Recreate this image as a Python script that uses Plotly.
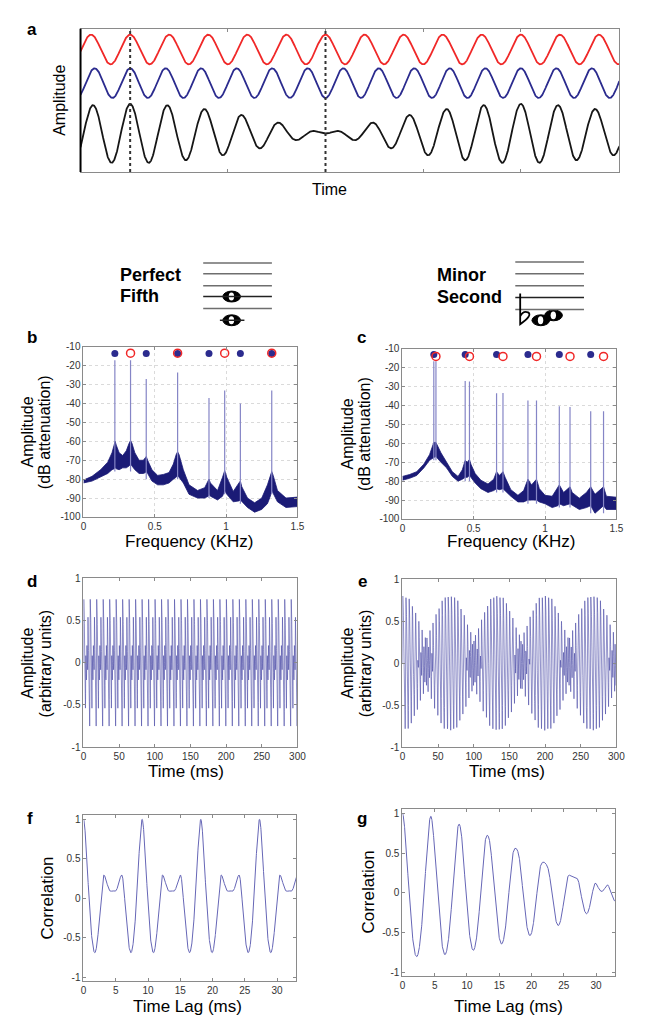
import numpy as np
import plotly.graph_objects as go

W, H = 645, 1024
FONT = "Arial, Liberation Sans, Helvetica, sans-serif"

# ---- panel a : two pure tones and their sum ----
A_TONE_FREQ = [1.0, 1.1]        # red, blue (cycles / time unit)
A_ALIGN_T = 1.27                # both tones peak here
A_MARK_T = [1.27, 6.27]         # dotted lines
A_T_END = 13.79
A_TICKS = [1.27, 3.77, 6.27, 8.77, 11.27]

# ---- chords (Hz) and harmonic levels (dB) ----
FIFTH_TONES_HZ = [220, 330]
SECOND_TONES_HZ = [220, 235]
HARMONIC_DB = [-17, -27, -33.5, -37.5, -40.5, -43]

# ---- panel b : perfect fifth spectrum ----
B_FREQ = [0.00, 0.06, 0.12, 0.17, 0.20, 0.215, 0.222, 0.23, 0.25, 0.275, 0.30, 0.32, 0.33, 0.34,
          0.36, 0.39, 0.42, 0.435, 0.44, 0.45, 0.48, 0.52, 0.56, 0.60, 0.63, 0.65, 0.66, 0.67,
          0.70, 0.74, 0.80, 0.85, 0.875, 0.88, 0.89, 0.94, 0.975, 0.99, 1.005, 1.05, 1.09, 1.10,
          1.11, 1.15, 1.20, 1.25, 1.29, 1.31, 1.32, 1.33, 1.36, 1.42, 1.50]
B_TOP = [-80.5, -78.5, -75, -71, -66, -61, -60, -62, -66, -67.5, -65, -61, -59.5, -61,
         -66, -70, -70, -68.5, -68, -70, -75, -78, -77.5, -76.5, -72, -67, -65.5, -67,
         -75, -83, -86, -84.5, -81, -80, -82, -86, -79, -75.5, -79, -86.5, -82, -81,
         -84, -90, -92.5, -90, -83, -77.5, -76, -78, -86, -90, -89.5]
B_BOTTOM = [-82, -81, -79, -77, -75, -74.5, -74, -74.5, -75, -74, -74, -73, -72, -73,
            -75, -77, -77, -76.5, -76, -77, -81, -83, -83, -82, -80, -79, -78, -79,
            -82, -88, -90, -90, -89, -88, -89, -91, -89, -86, -88, -92, -91.5, -91,
            -92, -95, -97.5, -96, -93, -89, -86, -88, -92, -95, -94.5]
B_PEAK_FREQ = [0.22, 0.33, 0.44, 0.66, 0.88, 0.99, 1.10, 1.32]
B_PEAK_DB = [-17, -17, -27, -23.5, -37, -33, -40, -33]
B_PEAK_BASE = [-76, -76, -80, -80, -90, -88, -93, -88]
B_DOT_BLUE = [0.22, 0.44, 0.66, 0.88, 1.10, 1.32]
B_DOT_RED = [0.33, 0.66, 0.99, 1.32]

# ---- panel c : minor second spectrum ----
C_FREQ = [0.00, 0.05, 0.10, 0.15, 0.19, 0.21, 0.22, 0.235, 0.245, 0.27, 0.31, 0.35, 0.39, 0.42,
          0.44, 0.455, 0.47, 0.48, 0.51, 0.55, 0.60, 0.64, 0.66, 0.68, 0.705, 0.72, 0.76, 0.81,
          0.85, 0.88, 0.905, 0.94, 0.96, 1.00, 1.05, 1.09, 1.10, 1.13, 1.175, 1.19, 1.24, 1.29,
          1.32, 1.35, 1.41, 1.43, 1.50]
C_TOP = [-77.5, -76.5, -75, -71, -66, -61, -59.5, -59.5, -61, -65, -70, -75, -77.5, -74,
         -69, -70, -68.5, -71, -76, -79.5, -81.5, -79, -75, -77, -75, -78, -84.5, -87.5,
         -85, -79, -82, -79, -84, -87.5, -88, -83, -82, -86, -83, -86, -89, -86,
         -83, -87, -83, -88, -88.5]
C_BOTTOM = [-79.5, -78.5, -77, -73, -69, -68, -67.5, -67, -68, -70, -73, -77.5, -80, -79,
            -78, -78, -77, -78, -81, -84, -86, -85, -84, -84.5, -84, -85, -88, -91,
            -91, -90, -90, -90, -91, -92, -94, -93, -92, -93, -92, -93, -95, -94,
            -93, -97, -93, -95, -95]
C_PEAK_FREQ = [0.22, 0.235, 0.44, 0.47, 0.66, 0.705, 0.88, 0.94, 1.10, 1.175, 1.32, 1.41]
C_PEAK_DB = [-16.5, -16.5, -27, -27.2, -33.5, -33.3, -37.3, -37.3, -40.4, -40.7, -43, -43]
C_PEAK_BASE = [-69, -69, -80, -80, -86, -86, -92, -92, -94, -94, -97, -97]
C_DOT_BLUE = [0.22, 0.44, 0.66, 0.88, 1.10, 1.32]
C_DOT_RED = [0.235, 0.47, 0.705, 0.94, 1.175, 1.41]

D_PEAK = 0.75   # peak amplitude of the fifth waveform
E_PEAK = 0.80   # peak amplitude of the minor-second waveform

C_RED = "#f02828"
C_BLUE = "#2b2b8e"
C_NAVY = "#1b1b76"
C_PEAKLINE = "#8585c6"
C_WAVE = "#4a4aa6"
C_FRAME = "#8a8a8a"


def X(px):
    return px / W


def Y(py):
    return 1 - py / H


def chord(tones, t_ms, peak):
    amps = 10 ** (np.array(HARMONIC_DB) / 20)
    sig = np.zeros_like(t_ms)
    for f0 in tones:
        for h, a in enumerate(amps, start=1):
            sig += a * np.sin(2 * np.pi * h * f0 * t_ms / 1000)
    return sig * peak / np.abs(sig).max()


def autocorr(tones, lag_ms):
    amps = 10 ** (np.array(HARMONIC_DB) / 20)
    r = np.zeros_like(lag_ms)
    for f0 in tones:
        for h, a in enumerate(amps, start=1):
            r += a ** 2 * np.cos(2 * np.pi * h * f0 * lag_ms / 1000)
    return r / r[0]


def axis(x0, x1, rng, tickvals, ticktext, grid=False, labels=True):
    return dict(
        domain=[x0, x1], range=rng, tickvals=tickvals,
        ticktext=ticktext if labels else [""] * len(tickvals),
        showline=True, mirror="ticks", linecolor=C_FRAME, linewidth=1,
        ticks="inside", ticklen=3, tickcolor=C_FRAME,
        tickfont=dict(size=10, color="#333", family=FONT),
        showgrid=grid, gridcolor="#dadada", griddash="dot", gridwidth=1,
        zeroline=False,
    )


fig = go.Figure()

# ---------------- panel a ----------------
ta = np.linspace(0, A_T_END, 2500)
red = np.cos(2 * np.pi * A_TONE_FREQ[0] * (ta - A_ALIGN_T))
blue = np.cos(2 * np.pi * A_TONE_FREQ[1] * (ta - A_ALIGN_T))
for y, off, col in [(red, -1.4, C_RED), (blue, -3.67, C_BLUE), (red + blue, -7.07, "#161616")]:
    fig.add_trace(go.Scatter(x=ta, y=y + off, mode="lines", line=dict(color=col, width=1.8),
                             xaxis="x", yaxis="y", showlegend=False, hoverinfo="skip"))

# ---------------- spectra ----------------
for freq, top, bot, pf, pdb, pbase, dblue, dred, xa, ya, dy in [
    (B_FREQ, B_TOP, B_BOTTOM, B_PEAK_FREQ, B_PEAK_DB, B_PEAK_BASE, B_DOT_BLUE, B_DOT_RED, "x2", "y2", (-13.5, -13.3)),
    (C_FREQ, C_TOP, C_BOTTOM, C_PEAK_FREQ, C_PEAK_DB, C_PEAK_BASE, C_DOT_BLUE, C_DOT_RED, "x3", "y3", (-13, -14)),
]:
    fig.add_trace(go.Scatter(
        x=list(freq) + list(freq)[::-1], y=list(top) + list(bot)[::-1],
        mode="lines", fill="toself", fillcolor=C_NAVY, line=dict(color=C_NAVY, width=0.8),
        xaxis=xa, yaxis=ya, showlegend=False, hoverinfo="skip"))
    px, py = [], []
    for f, p, b in zip(pf, pdb, pbase):
        px += [f, f, None]
        py += [b, p, None]
    fig.add_trace(go.Scatter(x=px, y=py, mode="lines", line=dict(color=C_PEAKLINE, width=1.2),
                             xaxis=xa, yaxis=ya, showlegend=False, hoverinfo="skip"))
    fig.add_trace(go.Scatter(x=dblue, y=[dy[0]] * len(dblue), mode="markers",
                             marker=dict(color=C_BLUE, size=7),
                             xaxis=xa, yaxis=ya, showlegend=False, hoverinfo="skip"))
    fig.add_trace(go.Scatter(x=dred, y=[dy[1]] * len(dred), mode="markers",
                             marker=dict(color="rgba(0,0,0,0)", size=8, line=dict(color=C_RED, width=1.5)),
                             xaxis=xa, yaxis=ya, showlegend=False, hoverinfo="skip"))

# ---------------- waveforms ----------------
tw = np.arange(0, 300.01, 0.04)
fig.add_trace(go.Scatter(x=tw, y=chord(FIFTH_TONES_HZ, tw, D_PEAK), mode="lines",
                         line=dict(color=C_WAVE, width=0.6), xaxis="x4", yaxis="y4",
                         showlegend=False, hoverinfo="skip"))
fig.add_trace(go.Scatter(x=tw, y=chord(SECOND_TONES_HZ, tw, E_PEAK), mode="lines",
                         line=dict(color=C_WAVE, width=0.6), xaxis="x5", yaxis="y5",
                         showlegend=False, hoverinfo="skip"))

# ---------------- autocorrelations ----------------
lag = np.arange(0, 33.001, 0.02)
fig.add_trace(go.Scatter(x=lag, y=autocorr(FIFTH_TONES_HZ, lag), mode="lines",
                         line=dict(color="#6666b6", width=1), xaxis="x6", yaxis="y6",
                         showlegend=False, hoverinfo="skip"))
fig.add_trace(go.Scatter(x=lag, y=autocorr(SECOND_TONES_HZ, lag), mode="lines",
                         line=dict(color="#6666b6", width=1), xaxis="x7", yaxis="y7",
                         showlegend=False, hoverinfo="skip"))

# ---------------- axes ----------------
db_ticks = list(range(-100, 0, 10))
db_text = [str(v) for v in db_ticks]
f_ticks, f_text = [0, 0.5, 1, 1.5], ["0", "0.5", "1", "1.5"]
amp_ticks, amp_text = [-1, -0.5, 0, 0.5, 1], ["-1", "-0.5", "0", "0.5", "1"]
ms_ticks = [0, 50, 100, 150, 200, 250, 300]
lag_ticks = [0, 5, 10, 15, 20, 25, 30]

layout_axes = {}
panels = [
    # (name, px box l, r, t, b, xrange, yrange, xticks, xtext, yticks, ytext, grid)
    ("", 79, 628, 23, 168, [0, A_T_END], [-9.67, 0], A_TICKS, None, [], None, False),
    ("2", 82, 300, 345, 517, [0, 1.5], [-100, -10], f_ticks, f_text, db_ticks, db_text, True),
    ("3", 407, 625, 347, 519, [0, 1.5], [-100, -10], f_ticks, f_text, db_ticks, db_text, True),
    ("4", 82, 300, 579, 750, [0, 300], [-1, 1], ms_ticks, [str(v) for v in ms_ticks], amp_ticks, amp_text, False),
    ("5", 407, 625, 580, 750, [0, 300], [-1, 1], ms_ticks, [str(v) for v in ms_ticks], amp_ticks, amp_text, False),
    ("6", 82, 299, 819, 987, [0, 33], [-1.05, 1.05], lag_ticks, [str(v) for v in lag_ticks], amp_ticks, amp_text, False),
    ("7", 407, 624, 813, 982, [0, 33], [-1.05, 1.05], lag_ticks, [str(v) for v in lag_ticks], amp_ticks, amp_text, False),
]
for name, l, r, t, b, xr, yr, xt, xtt, yt, ytt, grid in panels:
    xa = axis(X(l), X(r), xr, xt, xtt, grid, labels=xtt is not None)
    ya = axis(Y(b), Y(t), yr, yt, ytt, grid, labels=ytt is not None)
    xa["anchor"] = "y" + name
    ya["anchor"] = "x" + name
    ya["domain"] = [Y(b), Y(t)]
    layout_axes["xaxis" + name] = xa
    layout_axes["yaxis" + name] = ya

# ---------------- texts ----------------
ann = []


def text(s, px, py, size, bold=False, angle=0, anchor="center"):
    ann.append(dict(text=f"<b>{s}</b>" if bold else s, x=X(px), y=Y(py), xref="paper", yref="paper",
                    showarrow=False, textangle=angle, xanchor=anchor, yanchor="middle",
                    font=dict(size=size, color="#000", family=FONT)))


for letter, px, py in [("a", 30, 24), ("b", 30, 335), ("c", 365, 335), ("d", 30, 582),
                       ("e", 366, 582), ("f", 28, 822), ("g", 366, 822)]:
    text(letter, px, py, 17, bold=True)

text("Amplitude", 58, 95, 16, angle=-90)
text("Time", 333, 186, 16)
for lx, cy in [(25, 431), (351, 433)]:
    text("Amplitude", lx, cy, 16, angle=-90)
    text("(dB attenuation)", lx + 18, cy, 16, angle=-90)
for lx, cy in [(25, 665), (351, 665)]:
    text("Amplitude", lx, cy, 16, angle=-90)
    text("(arbitrary units)", lx + 18, cy, 16, angle=-90)
text("Frequency (KHz)", 190, 542, 17)
text("Frequency (KHz)", 518, 542, 17)
text("Time (ms)", 186, 775, 17)
text("Time (ms)", 514, 775, 17)
text("Correlation", 45, 903, 17, angle=-90)
text("Correlation", 372, 897, 17, angle=-90)
text("Time Lag (ms)", 188, 1012, 17)
text("Time Lag (ms)", 515, 1012, 17)

text("Perfect", 117, 272, 18, bold=True, anchor="left")
text("Fifth", 117, 293, 18, bold=True, anchor="left")
text("Minor", 440, 272, 18, bold=True, anchor="left")
text("Second", 440, 294, 18, bold=True, anchor="left")

# ---------------- shapes ----------------
shapes = []


def hline(x0, x1, py, color="#6e6e6e", width=1.5):
    shapes.append(dict(type="line", xref="paper", yref="paper", x0=X(x0), x1=X(x1), y0=Y(py), y1=Y(py),
                       line=dict(color=color, width=width)))


def note(cx, cy):
    shapes.append(dict(type="circle", xref="paper", yref="paper", x0=X(cx - 9), x1=X(cx + 9),
                       y0=Y(cy + 5.5), y1=Y(cy - 5.5), fillcolor="#000", line=dict(color="#000", width=1)))
    shapes.append(dict(type="circle", xref="paper", yref="paper", x0=X(cx - 3), x1=X(cx + 2.5),
                       y0=Y(cy + 4), y1=Y(cy - 4), fillcolor="#fff", line=dict(width=0)))


# panel a frame: black left spine, dotted markers
shapes.append(dict(type="line", xref="paper", yref="paper", x0=X(79), x1=X(79), y0=Y(168), y1=Y(23),
                   line=dict(color="#000", width=2)))
for tm in A_MARK_T:
    shapes.append(dict(type="line", xref="x", yref="paper", x0=tm, x1=tm, y0=Y(168), y1=Y(23),
                       line=dict(color="#333", width=2, dash="dot")))

# perfect fifth staff
note(233, 294)
note(233, 318)
for i, py in enumerate([260, 271, 283, 294, 306]):
    hline(204, 274, py, color="#222" if i == 3 else "#6e6e6e")
hline(221, 246, 318, color="#222")

# minor second staff
note(548, 318)
note(561, 313)
for i, py in enumerate([259, 271, 283, 295, 307]):
    hline(522, 592, py, color="#222" if i == 3 else "#6e6e6e")
shapes.append(dict(type="path", xref="paper", yref="paper",
                   path=(f"M {X(527)} {Y(291)} L {X(527)} {Y(322)} "
                         f"Q {X(540)} {Y(313)} {X(535)} {Y(310)} Q {X(530)} {Y(308)} {X(527)} {Y(314)}"),
                   line=dict(color="#000", width=1.8)))

fig.update_layout(
    width=W, height=H,
    margin=dict(l=0, r=0, t=0, b=0),
    paper_bgcolor="white", plot_bgcolor="white",
    showlegend=False,
    annotations=ann, shapes=shapes,
    font=dict(family=FONT),
    **layout_axes,
)
# the page's default body margin would shift the figure; drop it
fig.write_html("out.html", config={"displayModeBar": False},
               post_script="document.body.style.margin='0';document.body.style.overflow='hidden';")
